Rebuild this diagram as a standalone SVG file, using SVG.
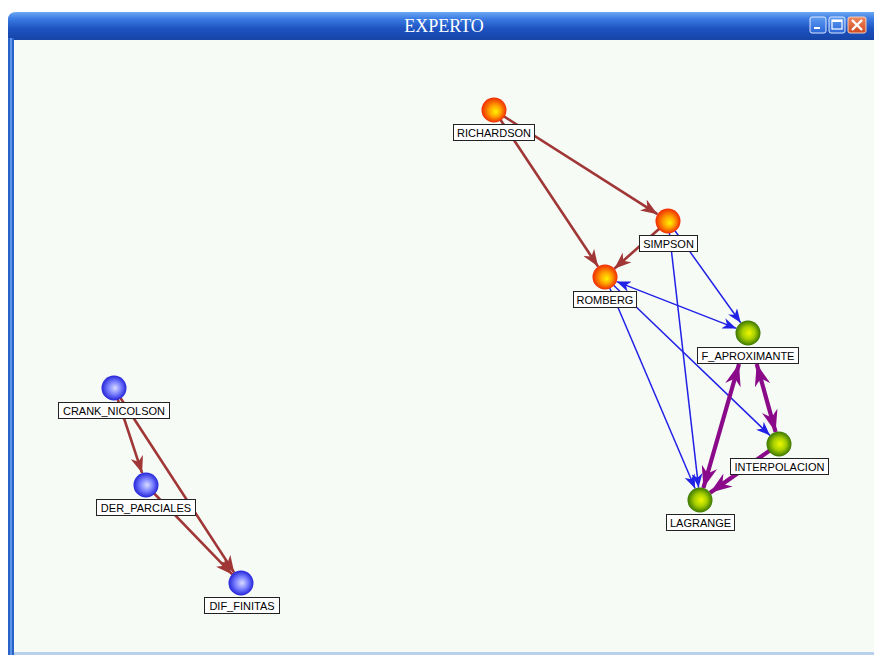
<svg xmlns="http://www.w3.org/2000/svg" width="874" height="655" viewBox="0 0 874 655">
<style>
.lbl rect{fill:#ffffff;stroke:#222222;stroke-width:1}
.lbl text{font-family:"Liberation Sans",Arial,sans-serif;font-size:11px;fill:#000000;text-anchor:middle}
.brown{stroke:#a03636;stroke-width:2.6;fill:none}
.blue{stroke:#2222e6;stroke-width:1.5;fill:none}
.purple{stroke:#8a0a8a;stroke-width:4.2;fill:none}
</style>
<defs>
<linearGradient id="title" x1="0" y1="0" x2="0" y2="1">
<stop offset="0" stop-color="#6aa8f4"/>
<stop offset="0.25" stop-color="#3a7ae2"/>
<stop offset="0.6" stop-color="#1d52c0"/>
<stop offset="1" stop-color="#1644a6"/>
</linearGradient>
<linearGradient id="closeg" x1="0" y1="0" x2="0" y2="1">
<stop offset="0" stop-color="#f08a60"/>
<stop offset="1" stop-color="#d04a20"/>
</linearGradient>
<linearGradient id="btng" x1="0" y1="0" x2="0" y2="1">
<stop offset="0" stop-color="#5e9cf2"/>
<stop offset="1" stop-color="#2a66d8"/>
</linearGradient>
<radialGradient id="gOrange" cx="50%" cy="50%" r="50%" fx="58%" fy="58%">
<stop offset="0" stop-color="#fff400"/>
<stop offset="0.45" stop-color="#ffa400"/>
<stop offset="1" stop-color="#f02a00"/>
</radialGradient>
<radialGradient id="gGreen" cx="50%" cy="50%" r="50%" fx="55%" fy="50%">
<stop offset="0" stop-color="#eef800"/>
<stop offset="0.5" stop-color="#a8d000"/>
<stop offset="1" stop-color="#3a7600"/>
</radialGradient>
<radialGradient id="gBlue" cx="50%" cy="50%" r="50%" fx="55%" fy="50%">
<stop offset="0" stop-color="#d8dcff"/>
<stop offset="0.5" stop-color="#7c82ff"/>
<stop offset="1" stop-color="#2424d8"/>
</radialGradient>
<marker id="aBrown" markerUnits="userSpaceOnUse" markerWidth="18" markerHeight="13" refX="17" refY="6.5" orient="auto-start-reverse">
<path d="M0,0 L17,6.5 L0,13 L5,6.5 z" fill="#a03636"/>
</marker>
<marker id="aBlue" markerUnits="userSpaceOnUse" markerWidth="15" markerHeight="11" refX="14" refY="5.5" orient="auto-start-reverse">
<path d="M0,0 L14,5.5 L0,11 L4,5.5 z" fill="#2222e6"/>
</marker>
<marker id="aPurple" markerUnits="userSpaceOnUse" markerWidth="23" markerHeight="16" refX="22" refY="8" orient="auto-start-reverse">
<path d="M0,0 L22,8 L0,16 L7,8 z" fill="#8a0a8a"/>
</marker>
</defs>

<g id="window">
<rect x="0" y="0" width="874" height="655" fill="#ffffff"/>
<path d="M8,40 L8,20 Q8,12 16,12 L874,12 L874,40 z" fill="url(#title)"/>
<rect x="8" y="38" width="6" height="617" fill="#2a62cc"/>
<rect x="10" y="38" width="2" height="617" fill="#5c94e8"/>
<rect x="14" y="40" width="860" height="613" fill="#f6fbf6"/>
<rect x="14" y="652" width="860" height="3" fill="#b8d0ec"/>
<text x="444" y="32" font-family="'Liberation Serif','Times New Roman',serif" font-size="18" fill="#ffffff" text-anchor="middle">EXPERTO</text>
<rect x="810" y="17" width="16" height="16" rx="2" fill="url(#btng)" stroke="#dfe9ff" stroke-width="1"/>
<rect x="814" y="27" width="6" height="2" fill="#ffffff"/>
<rect x="829" y="17" width="16" height="16" rx="2" fill="url(#btng)" stroke="#dfe9ff" stroke-width="1"/>
<rect x="832" y="20" width="10" height="9" fill="none" stroke="#ffffff" stroke-width="1.2"/>
<rect x="832" y="20" width="10" height="2" fill="#ffffff"/>
<rect x="848" y="17" width="18" height="16" rx="2" fill="url(#closeg)" stroke="#f5d0c0" stroke-width="1"/>
<path d="M852,20 L862,30 M862,20 L852,30" stroke="#ffffff" stroke-width="2.4"/>
</g>

<g id="connectors">
<line class="brown" x1="494" y1="110" x2="657.5" y2="214.2" marker-end="url(#aBrown)"/>
<line class="brown" x1="494" y1="110" x2="598.1" y2="266.6" marker-end="url(#aBrown)"/>
<line class="brown" x1="668" y1="221" x2="614.3" y2="268.7" marker-end="url(#aBrown)"/>
<line class="blue" x1="668" y1="221" x2="740.7" y2="322.8" marker-end="url(#aBlue)"/>
<line class="blue" x1="668" y1="221" x2="698.6" y2="487.6" marker-end="url(#aBlue)"/>
<line class="blue" x1="616.6" y1="281.6" x2="736.4" y2="328.4" marker-start="url(#aBlue)" marker-end="url(#aBlue)"/>
<line class="blue" x1="605" y1="277" x2="695.1" y2="488.5" marker-end="url(#aBlue)"/>
<line class="blue" x1="605" y1="277" x2="770" y2="435.4" marker-end="url(#aBlue)"/>
<line class="purple" x1="739" y1="364" x2="703.4" y2="488" marker-start="url(#aPurple)" marker-end="url(#aPurple)"/>
<line class="purple" x1="756.7" y1="364" x2="775.6" y2="432" marker-start="url(#aPurple)" marker-end="url(#aPurple)"/>
<line class="purple" x1="779" y1="444" x2="710.1" y2="492.7" marker-end="url(#aPurple)"/>
<line class="brown" x1="114" y1="388" x2="142.1" y2="473.1" marker-end="url(#aBrown)"/>
<line class="brown" x1="114" y1="388" x2="234.2" y2="572.6" marker-end="url(#aBrown)"/>
<line class="brown" x1="146" y1="485" x2="232.3" y2="574.4" marker-end="url(#aBrown)"/>
</g>

<g id="RICHARDSON" class="lbl">
<circle cx="494" cy="110" r="12.5" fill="url(#gOrange)"/>
<rect x="453.5" y="124.5" width="81" height="16"/>
<text x="494" y="136.5">RICHARDSON</text>
</g>
<g id="SIMPSON" class="lbl">
<circle cx="668" cy="221" r="12.5" fill="url(#gOrange)"/>
<rect x="639.5" y="235.5" width="58" height="16"/>
<text x="668.5" y="247.5">SIMPSON</text>
</g>
<g id="ROMBERG" class="lbl">
<circle cx="605" cy="277" r="12.5" fill="url(#gOrange)"/>
<rect x="573.5" y="291.5" width="63" height="16"/>
<text x="605" y="303.5">ROMBERG</text>
</g>
<g id="F_APROXIMANTE" class="lbl">
<circle cx="748" cy="333" r="12.5" fill="url(#gGreen)"/>
<rect x="697.5" y="347.5" width="101" height="16"/>
<text x="748" y="359.5">F_APROXIMANTE</text>
</g>
<g id="INTERPOLACION" class="lbl">
<circle cx="779" cy="444" r="12.5" fill="url(#gGreen)"/>
<rect x="730.5" y="458.5" width="98" height="16"/>
<text x="779.5" y="470.5">INTERPOLACION</text>
</g>
<g id="LAGRANGE" class="lbl">
<circle cx="700" cy="500" r="12.5" fill="url(#gGreen)"/>
<rect x="666.5" y="514.5" width="68" height="16"/>
<text x="700.5" y="526.5">LAGRANGE</text>
</g>
<g id="CRANK_NICOLSON" class="lbl">
<circle cx="114" cy="388" r="12.5" fill="url(#gBlue)"/>
<rect x="58.5" y="402.5" width="111" height="16"/>
<text x="114" y="414.5">CRANK_NICOLSON</text>
</g>
<g id="DER_PARCIALES" class="lbl">
<circle cx="146" cy="485" r="12.5" fill="url(#gBlue)"/>
<rect x="96.5" y="499.5" width="99" height="16"/>
<text x="146" y="511.5">DER_PARCIALES</text>
</g>
<g id="DIF_FINITAS" class="lbl">
<circle cx="241" cy="583" r="12.5" fill="url(#gBlue)"/>
<rect x="204.5" y="597.5" width="75" height="16"/>
<text x="242" y="609.5">DIF_FINITAS</text>
</g>
</svg>
